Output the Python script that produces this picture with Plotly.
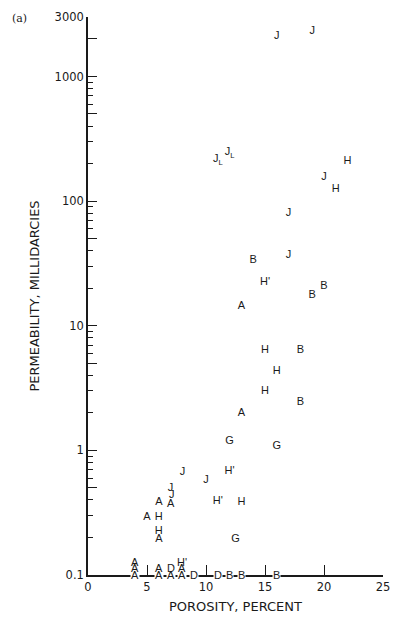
import math
import plotly.graph_objects as go

# ---- data ----
# points above the detection floor
porosity = [16, 19, 11, 12, 22, 20, 21, 17, 14, 17, 15, 20, 19, 13,
            15, 18, 16, 15, 18, 13, 12, 16,
            8, 12, 10, 7, 7.1, 6, 7, 11, 13, 5, 6, 6, 6, 12.5]
permeability = [2100, 2300, 215, 245, 208, 155, 124, 80, 33.5, 36.5, 22.4, 20.8, 17.6, 14.4,
                6.3, 6.3, 4.3, 3.0, 2.45, 1.97, 1.18, 1.08,
                0.67, 0.68, 0.58, 0.50, 0.44, 0.38, 0.37, 0.39, 0.385, 0.288, 0.288, 0.223, 0.193, 0.193]
labels = ["J", "J", "J<sub>L</sub>", "J<sub>L</sub>", "H", "J", "H", "J", "B", "J", "H'", "B", "B", "A",
          "H", "B", "H", "H", "B", "A", "G", "G",
          "J", "H'", "J", "J", "J", "A", "A", "H'", "H", "A", "H", "H", "A", "G"]

# samples at or below 0.1 md, stacked on the axis
low_porosity = [4, 4, 4, 6, 6, 7, 7, 8, 8, 8, 9, 11, 12, 13, 16]
low_permeability = [0.1, 0.113, 0.127, 0.1, 0.113, 0.1, 0.113, 0.1, 0.113, 0.127, 0.1, 0.1, 0.1, 0.1, 0.1]
low_labels = ["A", "A", "A", "A", "A", "A", "D", "A", "A", "H'", "D", "D", "B", "B", "B"]
low_on_axis = [True, False, False, True, False, True, False, True, False, False, True, True, True, True, True]

x_ticks = [0, 5, 10, 15, 20, 25]
y_ticks = [0.1, 0.5, 1, 5, 10, 50, 100, 500, 1000, 2000, 3000]
y_ticktext = ["0.1", "", "1", "", "10", "", "100", "", "1000", "", "3000"]

minor_y = [m * 10 ** e for e in range(-1, 3) for m in (2, 3, 4, 6, 7, 8, 9)] + [600, 700, 800, 900]

LETTER_FONT = dict(family="Liberation Sans, Arial", size=11, color="#1a1a1a")
AXIS_FONT = dict(family="DejaVu Sans", size=11.5, color="#1a1a1a")
TITLE_FONT = dict(family="DejaVu Sans", size=13, color="#1a1a1a")

fig = go.Figure()
fig.add_trace(go.Scatter(
    x=porosity, y=permeability, text=labels, mode="text",
    textposition="middle center", textfont=LETTER_FONT,
    hoverinfo="skip", showlegend=False))

annotations = []
for px, py, lab, on in zip(low_porosity, low_permeability, low_labels, low_on_axis):
    annotations.append(dict(
        x=px, y=math.log10(py), xref="x", yref="y", text=lab, showarrow=False,
        font=LETTER_FONT, bgcolor="white" if on else "rgba(0,0,0,0)", borderpad=0,
        xanchor="center", yanchor="middle"))

annotations.append(dict(x=-0.232, y=0.997, xref="paper", yref="paper", text="(a)",
                        showarrow=False, font=dict(family="DejaVu Serif", size=11, color="#1a1a1a"),
                        xanchor="center", yanchor="middle"))

fig.update_layout(
    width=400, height=624,
    margin=dict(l=88, r=17, t=10, b=49),
    paper_bgcolor="white", plot_bgcolor="white",
    showlegend=False,
    annotations=annotations,
    font=dict(family="DejaVu Sans", size=11, color="#1a1a1a"),
    xaxis=dict(
        range=[0, 25], tickvals=x_ticks, ticks="inside", ticklen=10, tickwidth=1.3,
        tickcolor="#1a1a1a", showline=True, linecolor="#1a1a1a", linewidth=1.6,
        showgrid=False, zeroline=False, layer="below traces",
        tickfont=AXIS_FONT,
        title=dict(text="POROSITY, PERCENT", font=TITLE_FONT, standoff=9),
    ),
    yaxis=dict(
        type="log", range=[-1, math.log10(3000)], tickvals=y_ticks, ticktext=y_ticktext,
        ticks="inside", ticklen=9, tickwidth=1.3, tickcolor="#1a1a1a",
        showline=True, linecolor="#1a1a1a", linewidth=1.6,
        showgrid=False, zeroline=False,
        minor=dict(tickvals=minor_y, ticks="inside", ticklen=5, tickwidth=1, tickcolor="#1a1a1a", showgrid=False),
        tickfont=AXIS_FONT,
        title=dict(text="PERMEABILITY, MILLIDARCIES", font=TITLE_FONT, standoff=12),
    ),
)

fig.write_html("out.html", config={"displayModeBar": False},
               post_script="document.body.style.margin='0';")
